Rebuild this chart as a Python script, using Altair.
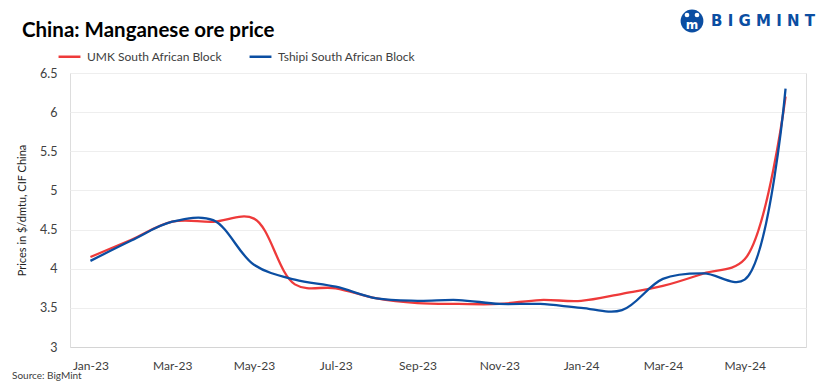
import altair as alt
import pandas as pd

months = ["Jan-23", "Feb-23", "Mar-23", "Apr-23", "May-23", "Jun-23", "Jul-23", "Aug-23",
          "Sep-23", "Oct-23", "Nov-23", "Dec-23", "Jan-24", "Feb-24", "Mar-24", "Apr-24",
          "May-24", "Jun-24"]
umk = [4.15, 4.37, 4.60, 4.60, 4.64, 3.80, 3.75, 3.62, 3.56, 3.55, 3.55, 3.60, 3.59, 3.68,
       3.78, 3.94, 4.12, 6.20]
tshipi = [4.10, 4.36, 4.60, 4.62, 4.05, 3.86, 3.77, 3.62, 3.59, 3.60, 3.55, 3.55, 3.50, 3.47,
          3.87, 3.94, 3.86, 6.30]
series_names = ["UMK South African Block", "Tshipi South African Block"]
series_colors = ["#EE3A3A", "#0B4EA2"]
x_tick_labels = ["Jan-23", "Mar-23", "May-23", "Jul-23", "Sep-23", "Nov-23", "Jan-24",
                 "Mar-24", "May-24"]
y_ticks = [3, 3.5, 4, 4.5, 5, 5.5, 6, 6.5]

rows = []
for m, a, b in zip(months, umk, tshipi):
    rows.append({"month": m, "series": series_names[0], "price": a})
    rows.append({"month": m, "series": series_names[1], "price": b})
df = pd.DataFrame(rows)

FONT = "Lato"
TXT = "#404040"

lines = alt.Chart(df).mark_line(interpolate="catmull-rom", strokeWidth=2.3).encode(
    x=alt.X("month:O", sort=months, scale=alt.Scale(type="point", padding=0.5),
            axis=alt.Axis(values=x_tick_labels, labelAngle=0, ticks=False, grid=False,
                          domainColor="#d4d4d4", labelPadding=13, labelFontSize=12,
                          labelFont=FONT, labelColor=TXT, title=None)),
    y=alt.Y("price:Q", scale=alt.Scale(domain=[3, 6.5], nice=False, zero=False),
            axis=alt.Axis(values=y_ticks, format="~g", ticks=False, domain=False,
                          gridColor="#eeeeee", labelPadding=13, labelFontSize=12.5,
                          labelFont=FONT, labelColor=TXT,
                          title="Prices in $/dmtu, CIF China", titleFont=FONT,
                          titleFontSize=11, titleFontWeight="normal", titleColor="#222222",
                          titleX=-48, titleY=137, titleAngle=-90, titleBaseline="middle",
                          titleAlign="center")),
    color=alt.Color("series:N", scale=alt.Scale(domain=series_names, range=series_colors),
                    legend=alt.Legend(title=None, orient="none", legendX=-13, legendY=-29,
                                      direction="horizontal", symbolType="stroke",
                                      symbolSize=480, symbolStrokeWidth=2.5,
                                      labelFont=FONT, labelFontSize=12, labelColor=TXT,
                                      columnPadding=22, labelOffset=5, labelLimit=300)),
)

one = pd.DataFrame({"k": [0]})

title = alt.Chart(one).mark_text(text="China: Manganese ore price", font=FONT, fontSize=20.5,
                                 fontWeight="bold", align="left", baseline="alphabetic",
                                 color="#000000").encode(x=alt.value(-48), y=alt.value(-36))

source = alt.Chart(one).mark_text(text="Source:  BigMint", font=FONT, fontSize=10,
                                  align="left", baseline="middle",
                                  color=TXT).encode(x=alt.value(-58), y=alt.value(303))

logo_circle = alt.Chart(one).mark_point(filled=True, shape="circle", size=520, opacity=1,
                                        color="#0B4EA2").encode(x=alt.value(622), y=alt.value(-52))
logo_head1 = alt.Chart(one).mark_point(filled=True, shape="circle", size=22, opacity=1,
                                       color="#ffffff").encode(x=alt.value(617), y=alt.value(-58))
logo_head2 = alt.Chart(one).mark_point(filled=True, shape="circle", size=22, opacity=1,
                                       color="#ffffff").encode(x=alt.value(627), y=alt.value(-58))
logo_body = alt.Chart(one).mark_text(text="m", font="DejaVu Sans", fontSize=12, fontWeight="bold",
                                     align="center", baseline="middle",
                                     color="#ffffff").encode(x=alt.value(622), y=alt.value(-48))
logo_text = alt.Chart(one).mark_text(text="B I G M I N T", font="DejaVu Sans", fontSize=15,
                                     fontWeight="bold", align="left", baseline="middle",
                                     color="#0B4EA2").encode(x=alt.value(641), y=alt.value(-52))

chart = alt.layer(lines, title, source, logo_circle, logo_head1, logo_head2, logo_body,
                  logo_text).properties(
    width=736, height=274,
    autosize=alt.AutoSizeParams(type="none"),
    padding={"left": 62, "top": 65, "right": 12, "bottom": 36},
).configure_view(strokeWidth=0).configure(background="#ffffff")

chart.save("out.html", embed_options={"renderer": "svg", "actions": False})
